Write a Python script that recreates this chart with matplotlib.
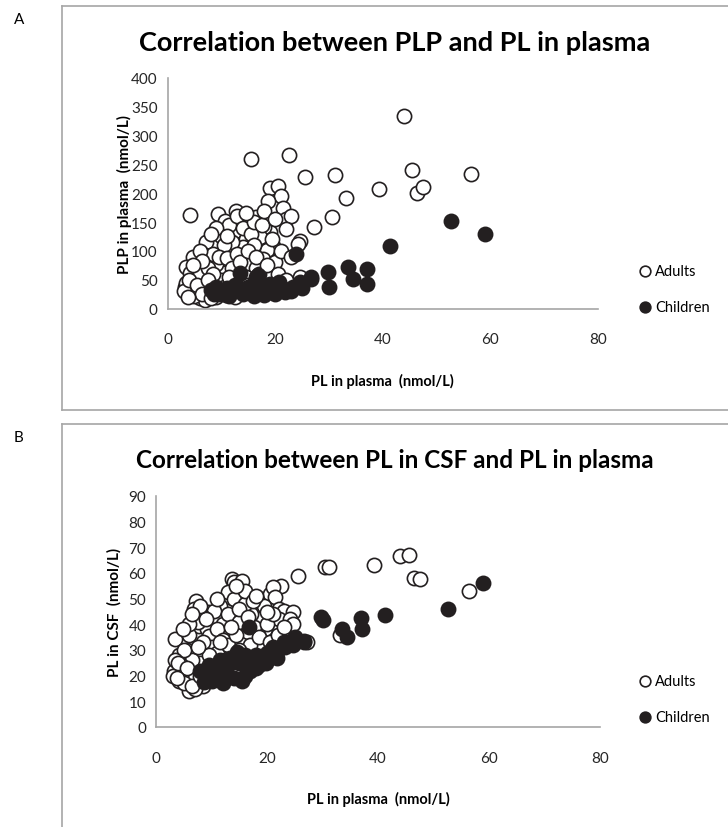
import matplotlib.pyplot as plt
from matplotlib.lines import Line2D

plt.rcParams['font.family'] = ['Lato', 'DejaVu Sans']

# adults: PL in plasma, PLP in plasma, PL in CSF
adult_pl = [4.2, 15.6, 22.6, 25.6, 27.2, 30.5, 31.2, 33.1, 39.3, 43.9, 45.5, 46.4, 47.5, 56.4,
            19.0, 20.5, 21.1, 18.7, 21.5, 22.1, 23.0, 22.1, 24.6, 24.2, 19.0, 18.0, 19.6, 18.4,
            18.4, 17.7, 24.6,
            9.4, 12.8, 13.7, 10.6, 10.0, 12.5, 14.6, 16.5, 17.1, 7.2, 6.9, 4.7, 3.5, 4.1, 3.2,
            4.1, 6.0, 8.4, 7.8, 10.0, 12.8, 14.9, 14.0, 11.2, 9.1, 5.6, 9.7,
            11.5, 13.0, 14.0, 15.5, 16.0, 12.0, 10.5, 8.5, 9.5, 11.0, 13.0, 15.0, 16.5, 17.0,
            12.0, 10.0, 8.0, 6.5, 5.0, 5.5, 7.0, 3.5, 4.5, 6.0, 7.5, 8.5, 11.0, 13.0, 14.5,
            15.0, 12.0, 10.0, 9.0, 7.0, 5.0, 3.0, 20.0, 21.0, 19.5, 16.0, 17.5, 14.5, 18.0,
            20.0, 9.0, 8.0, 11.0, 6.0, 6.5, 13.5, 15.0, 16.5, 18.5, 20.5, 22.0, 23.0,
            4.0, 5.5, 6.5, 8.0, 9.5, 3.8, 7.5, 4.8, 11.5, 12.5]
adult_plp = [163, 260, 267, 228, 142, 159, 231, 192, 208, 334, 241, 200, 210, 234,
             209, 212, 195, 187, 175, 155, 161, 138, 118, 112, 132, 141, 109, 95,
             101, 86, 55,
             164, 169, 152, 152, 126, 135, 121, 158, 124, 115, 92, 89, 72, 61, 38,
             26, 18, 26, 55, 63, 84, 92, 106, 101, 78, 72, 44,
             145, 160, 140, 130, 110, 115, 110, 95, 90, 88, 95, 75, 70, 60,
             70, 50, 40, 45, 50, 30, 30, 45, 35, 60, 70, 60, 40, 45, 55,
             40, 30, 30, 20, 15, 22, 30, 80, 100, 120, 150, 145, 165, 170,
             155, 140, 130, 125, 100, 82, 80, 100, 90, 75, 60, 50, 90,
             50, 40, 25, 18, 32, 20, 50, 75, 55, 20]
adult_csf = [22, 48, 55, 59, 33, 62.4, 62.2, 36, 63, 66.7, 67, 58, 57.5, 53,
             50, 52, 54.4, 47, 50.5, 46, 45.3, 42, 45, 42, 40, 44, 38, 36,
             42, 39, 40,
             45, 48, 57.7, 44, 41, 50, 53, 46.6, 44, 49.2, 46, 34, 34.3, 28, 22,
             18, 14, 16, 39.5, 35, 45.3, 52, 56.4, 42, 38, 30, 27,
             47, 52.5, 50, 57, 48, 40, 45.3, 43, 35.6, 38, 44, 41, 37, 32,
             34, 31, 25, 26, 30, 21, 19, 26, 24, 36, 41, 33, 29, 32, 36,
             30, 24, 22, 18, 15, 17, 20, 40, 44, 47, 53, 49, 55, 51,
             45, 42, 47, 50, 40, 44, 39, 46, 43, 35, 33, 36, 39,
             25, 23, 16, 20, 28, 19, 31, 38, 33, 26]

# children: PL in plasma, PLP in plasma, PL in CSF
child_pl = [41.3, 23.8, 52.7, 59.0, 33.5, 37.0, 34.5, 37.1, 29.8, 30.0, 26.7, 24.6,
            13.4, 16.8, 16.5, 8.7, 10.9, 14.6, 19.0, 17.1, 19.9, 20.8, 23.3, 24.6, 26.7,
            21.8, 19.6,
            8.0, 9.0, 10.0, 11.0, 12.0, 12.5, 13.0, 14.0, 15.0, 15.5, 16.0, 17.0, 18.0,
            18.5, 20.0, 21.0, 22.0, 23.0, 25.0, 9.5, 11.5, 16.0, 18.0]
child_plp = [109, 95, 152, 130, 72, 69, 52, 43, 63, 38, 52, 43,
             61, 58, 55, 26, 23, 32, 43, 29, 26, 46, 38, 46, 55,
             29, 32,
             32, 38, 30, 35, 28, 40, 33, 25, 38, 28, 45, 35, 30,
             40, 35, 38, 32, 30, 35, 25, 22, 22, 24]
child_csf = [43.6, 33, 46, 56.1, 38.2, 42.3, 34.9, 38.2, 42.7, 41.5, 33, 32,
             27, 38.8, 22, 17.4, 20, 29.1, 27, 24, 25, 30, 31, 34, 33.6,
             27, 26,
             22, 20, 18, 23, 17, 21, 24, 19, 25, 18, 28, 22, 28,
             24, 29, 31, 30, 33, 35, 24, 26, 20, 23]

W, H = 728, 828
fig = plt.figure(figsize=(W / 100, H / 100), dpi=100)
ink = '#231f20'
frame = '#a6a6a6'


def fx(px):
    return px / W


def fy(py):
    return 1 - py / H


def panel(top, letter, title, tsize, ylabel, ydata, ymax, ystep, box, ylab_x, leg_y):
    left, right, ax_top, ax_bot = box
    # outer chart frame (runs off the right edge)
    fig.add_artist(Line2D([fx(62), fx(62)], [fy(top), fy(min(top + 404, H))],
                          color=frame, lw=1.2))
    fig.add_artist(Line2D([fx(62), 1], [fy(top), fy(top)], color=frame, lw=1.2))
    if top + 404 < H:
        fig.add_artist(Line2D([fx(62), 1], [fy(top + 404), fy(top + 404)],
                              color=frame, lw=1.2))
    fig.text(fx(14), fy(top + 13), letter, fontsize=11, va='center')
    fig.text(fx(395), fy(top + 36), title, fontsize=tsize, fontweight='bold',
             ha='center', va='center')

    ax = fig.add_axes([fx(left), fy(ax_bot), fx(right - left), (ax_bot - ax_top) / H])
    a = ax.scatter(adult_pl, ydata[0], s=105, facecolor='white', edgecolor=ink,
                   linewidth=1.2, zorder=2)
    c = ax.scatter(child_pl, ydata[1], s=105, facecolor=ink, edgecolor=ink,
                   linewidth=1.2, zorder=3)
    ax.set_xlim(0, 80)
    ax.set_ylim(0, ymax)
    ax.set_xticks(range(0, 81, 20))
    ax.set_yticks(range(0, ymax + 1, ystep))
    for s in ['top', 'right']:
        ax.spines[s].set_visible(False)
    for s in ['left', 'bottom']:
        ax.spines[s].set_color(frame)
        ax.spines[s].set_linewidth(1.2)
    ax.tick_params(length=0, labelsize=11, colors='#262626')
    ax.tick_params(axis='x', pad=17)
    ax.tick_params(axis='y', pad=7)
    ax.set_xlabel('PL in plasma  (nmol/L)', fontsize=10.5, fontweight='bold',
                  labelpad=19)
    fig.text(fx(ylab_x), fy((ax_top + ax_bot) / 2), ylabel, fontsize=11,
             fontweight='bold', rotation=90, ha='center', va='center')
    ax.legend([a, c], ['Adults', 'Children'], loc='upper left', frameon=False,
              bbox_to_anchor=(fx(630), fy(leg_y)), bbox_transform=fig.transFigure,
              fontsize=10.5, markerscale=0.75, handletextpad=0.1, handlelength=1.2,
              labelspacing=1.5, borderaxespad=0)
    return ax


panel(7, 'A', 'Correlation between PLP and PL in plasma', 19.5, 'PLP in plasma  (nmol/L)',
      (adult_plp, child_plp), 400, 50, (167.5, 598, 79, 309.5), 124, 259)
panel(425, 'B', 'Correlation between PL in CSF and PL in plasma', 17.5, 'PL in CSF  (nmol/L)',
      (adult_csf, child_csf), 90, 10, (156, 600, 497, 728), 114, 669)

fig.savefig('out.png', dpi=100)
